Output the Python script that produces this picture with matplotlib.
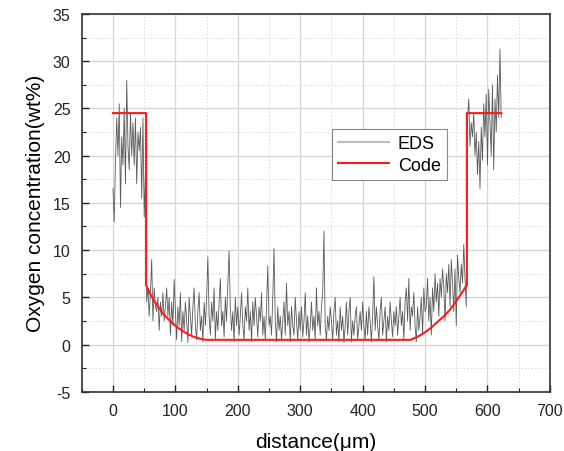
import numpy as np
import matplotlib
matplotlib.use("Agg")
import matplotlib.pyplot as plt
from matplotlib.ticker import MultipleLocator
from matplotlib.lines import Line2D

eds_left = [16.5, 13.0, 19.5, 24.0, 20.0, 25.5, 14.5, 22.0, 19.0, 25.0, 17.0, 28.0, 21.0, 18.5,
            24.5, 20.0, 23.5, 19.0, 24.0, 17.0, 22.5, 20.5, 23.0, 15.5, 24.0, 13.5, 18.0]
eds_mid = [
    4.5, 6.0, 3.0, 5.5, 9.0, 2.5, 6.0, 4.0, 3.5, 5.0, 1.5, 4.5, 3.0, 5.5, 2.5, 4.0, 6.0, 3.0, 5.0, 1.0,
    4.5, 2.0, 6.9, 3.5,
    0.5, 4.0, 2.0, 5.5, 0.3, 3.5, 1.5, 4.5, 2.5, 0.2, 5.0, 3.0, 1.0, 4.0, 6.0, 2.0, 0.5, 3.5, 5.5, 1.5,
    3.0, 0.3, 4.5, 2.0, 5.0,
    9.3, 3.0, 1.0, 4.5, 2.5, 6.0, 0.5, 3.5, 1.5, 4.5, 7.0, 2.0, 3.5, 0.8, 5.0, 2.5, 6.5, 9.9, 4.0, 1.5,
    3.5, 0.3, 5.0, 2.0, 4.0,
    1.0, 3.0, 5.5, 2.0, 0.5, 4.0, 2.5, 6.0, 1.5, 3.5, 0.3, 4.5, 2.0, 5.0, 3.0, 0.8, 4.0, 2.5, 5.5, 1.0,
    3.0, 0.5, 4.0, 8.3, 2.0,
    3.0, 1.0, 5.0, 10.2, 2.5, 0.3, 4.0, 1.5, 3.0, 0.5, 2.5, 4.5, 1.0, 6.5, 2.0, 3.5, 0.3, 4.0, 2.0, 1.0,
    5.0, 2.5, 0.5, 3.5, 1.5,
    4.0, 0.8, 2.5, 5.5, 1.0, 3.0, 0.3, 2.0, 4.5, 1.5, 3.0, 0.5, 6.0, 2.0, 3.5, 1.0, 4.0, 5.5, 12.0, 2.0,
    0.5, 3.0, 1.5, 4.0, 2.5,
    0.5, 3.5, 5.0, 1.0, 2.5, 0.3, 4.0, 1.5, 3.0, 0.2, 2.0, 4.5, 1.0, 3.5, 5.0, 0.3, 2.5, 1.0, 3.0, 4.0,
    0.5, 2.0, 3.5, 1.5, 4.5,
    2.0, 0.5, 3.5, 1.0, 4.0, 2.5, 0.3, 3.0, 7.2, 1.5, 4.0, 2.0, 0.5, 3.5, 5.0, 1.0, 2.5, 4.0, 0.3, 3.0,
    1.5, 4.5, 2.5, 0.8, 3.5,
    2.0, 4.0, 1.0, 3.0, 5.0, 2.0, 3.5, 0.5, 4.5, 6.0, 2.5, 7.0, 1.5, 4.0, 3.0, 5.5, 2.0, 0.3, 4.0, 1.5,
    3.0, 5.0, 1.0, 6.0, 3.5,
    4.0, 7.0, 2.5, 5.0, 1.0, 6.0, 3.5, 7.5, 4.5, 6.5, 3.0, 7.0, 5.0, 8.0, 6.0, 2.5, 7.5, 5.5, 8.5, 4.0,
    9.0, 6.5, 3.5, 8.0, 2.0, 9.5, 7.0, 5.5, 8.5, 6.5, 10.6, 7.0, 4.0,
]
eds_right = [24.0, 26.0, 21.0, 23.5, 22.0, 24.5, 20.0, 22.5, 18.0, 21.5, 16.5, 23.0, 19.5, 25.5,
             22.0, 26.5, 19.0, 27.0, 23.5, 20.0, 27.5, 18.5, 26.0, 22.5, 28.5, 24.0, 31.3, 24.0]
eds_y = eds_left + eds_mid + eds_right
eds_x = np.arange(0, 2 * len(eds_y), 2)

# model ("Code") profile
code_x = [0, 53, 53, 60, 70, 80, 90, 100, 110, 120, 130, 140, 150, 477, 490, 500, 510, 520,
          530, 540, 550, 560, 567, 567, 622]
code_y = [24.5, 24.5, 6.3, 5.3, 4.2, 3.3, 2.6, 2.0, 1.5, 1.1, 0.8, 0.6, 0.5, 0.5, 0.9, 1.3,
          1.8, 2.4, 3.0, 3.7, 4.6, 5.6, 6.3, 24.5, 24.5]

plt.rcParams['font.family'] = ['Liberation Sans', 'DejaVu Sans']
plt.rcParams['axes.unicode_minus'] = False

fig = plt.figure(figsize=(5.64, 4.52), dpi=100)
ax = fig.add_axes([0.145, 0.131, 0.83, 0.836])

ax.plot(eds_x, eds_y, color='#5a5a5a', lw=0.6, zorder=3)
ax.plot(code_x, code_y, color='#ff1a1a', lw=1.5, zorder=4)

ax.set_xlim(-50, 700)
ax.set_ylim(-5, 35)
ax.xaxis.set_major_locator(MultipleLocator(100))
ax.xaxis.set_minor_locator(MultipleLocator(50))
ax.yaxis.set_major_locator(MultipleLocator(5))
ax.yaxis.set_minor_locator(MultipleLocator(2.5))

ax.grid(which='major', color='#d4d4d4', lw=0.9, zorder=0)
ax.grid(which='minor', color='#dadada', lw=0.7, ls=(0, (1.5, 2)), zorder=0)

ax.tick_params(which='both', direction='in', top=False, right=False,
               labelsize=11.5, colors='#222222', pad=8)
ax.tick_params(which='major', length=5, width=1)
ax.tick_params(which='minor', length=3, width=0.8)
for s in ax.spines.values():
    s.set_linewidth(1.2)
    s.set_color('#333333')

ax.set_xlabel('distance(\u03bcm)', fontsize=15, labelpad=10)
ax.set_ylabel('Oxygen concentration(wt%)', fontsize=15, labelpad=6)

handles = [Line2D([], [], color='#bdbdbd', lw=1.5), Line2D([], [], color='#ff1a1a', lw=1.5)]
leg = ax.legend(handles, ['EDS', 'Code'], loc='upper left', bbox_to_anchor=(0.515, 0.72),
                fontsize=13, fancybox=False, framealpha=1, edgecolor='#888888',
                handlelength=2.8, borderpad=0.35, labelspacing=0.25, handletextpad=0.5)
leg.get_frame().set_linewidth(0.8)

fig.savefig('out.png', dpi=100)
